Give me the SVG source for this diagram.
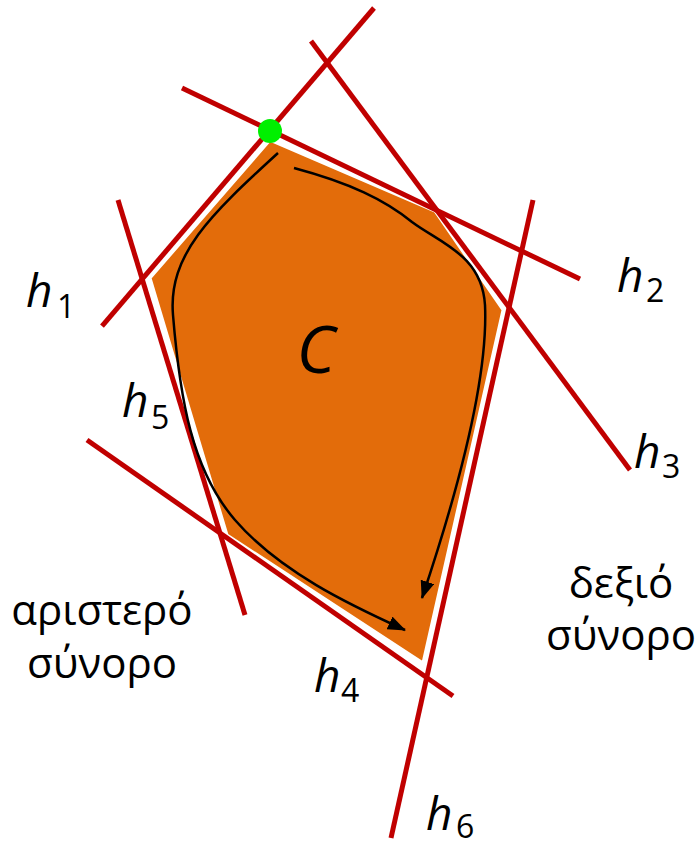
<svg xmlns="http://www.w3.org/2000/svg" width="697" height="849" viewBox="0 0 697 849">
<style>
.red{stroke:#C00000;stroke-width:5;fill:none}
.cur{stroke:#000;stroke-width:2.5;fill:none;marker-end:url(#arr)}
.lbl{font-family:"Open Sans","Noto Sans",sans-serif;fill:#000}
.h{font-style:italic;font-size:46px}
.sub{font-size:32px}
.gr{font-size:42px;text-anchor:middle}
</style>
<defs>
<marker id="arr" markerUnits="userSpaceOnUse" markerWidth="20" markerHeight="16" refX="17" refY="7" orient="auto">
<path d="M0,0 L18,7 L0,14 Z" fill="#000"/>
</marker>
</defs>
<g id="region">
<polygon points="270,140 435,211 503,310 423,663 227,535 150,278" fill="#E36C0A" stroke="#fff" stroke-width="3" stroke-linejoin="miter"/>
</g>
<g id="lines">
<line id="h1" class="red" x1="102" y1="326" x2="374" y2="8"/>
<line id="h2" class="red" x1="182" y1="88" x2="580" y2="279"/>
<line id="h3" class="red" x1="311" y1="41" x2="630" y2="470"/>
<line id="h4" class="red" x1="87" y1="440" x2="453" y2="696"/>
<line id="h5" class="red" x1="118" y1="200" x2="245" y2="615"/>
<line id="h6" class="red" x1="533" y1="200" x2="391" y2="838"/>
</g>
<g id="connectors">
<path class="cur" d="M278,153 C210,215 168,255 173,315 C180,400 192,470 235,520 C280,572 350,605 405,630"/>
<path class="cur" d="M294,168 C350,183 385,200 412,222 C440,243 482,255 485,305 C488,370 465,470 422,598"/>
</g>
<g id="vertex">
<circle cx="270" cy="131" r="12" fill="#00F000"/>
</g>
<g id="labels" class="lbl">
<text x="316" y="373" font-size="66" font-style="italic" text-anchor="middle">C</text>
<text x="26" y="307" class="h">h</text><text x="57" y="318" class="sub">1</text>
<text x="617" y="292" class="h">h</text><text x="646" y="302" class="sub">2</text>
<text x="634" y="468" class="h">h</text><text x="662" y="478" class="sub">3</text>
<text x="314" y="692" class="h">h</text><text x="341" y="702" class="sub">4</text>
<text x="122" y="417" class="h">h</text><text x="151" y="429" class="sub">5</text>
<text x="426" y="830" class="h">h</text><text x="456" y="838" class="sub">6</text>
<text x="102" y="625" class="gr">αριστερό</text>
<text x="102" y="678" class="gr">σύνορο</text>
<text x="621" y="598" class="gr">δεξιό</text>
<text x="621" y="650" class="gr">σύνορο</text>
</g>
</svg>
